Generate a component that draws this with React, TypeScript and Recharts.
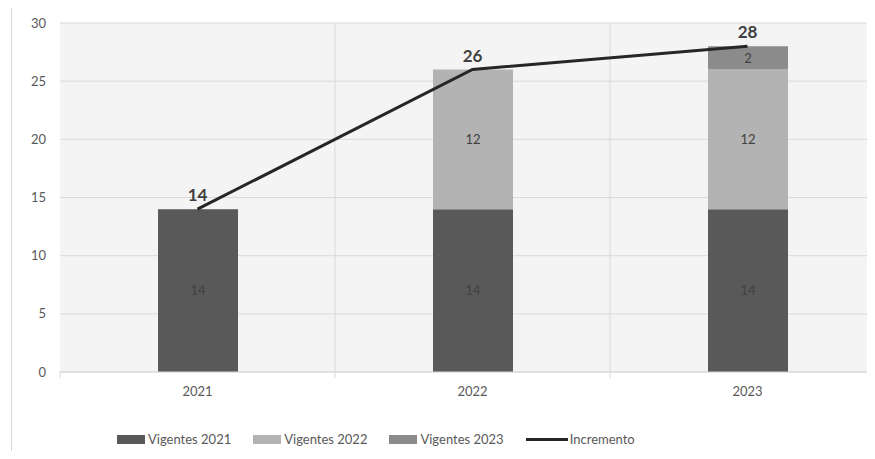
import { ComposedChart, Bar, Line, XAxis, YAxis, CartesianGrid, Legend, LabelList } from 'recharts';

const categories = ['2021', '2022', '2023'];
const vigentes2021 = [14, 14, 14];
const vigentes2022 = [null, 12, 12];
const vigentes2023 = [null, null, 2];
const incremento = [14, 26, 28];
const yTicks = [0, 5, 10, 15, 20, 25, 30];

const data = categories.map((year, i) => ({
  year,
  v2021: vigentes2021[i],
  v2022: vigentes2022[i],
  v2023: vigentes2023[i],
  incremento: incremento[i],
}));

const FONT = 'Lato, "Open Sans", sans-serif';
const TEXT = '#595959';
const GRID = '#d9d9d9';

const legendItems = [
  { label: 'Vigentes 2021', color: '#595959', type: 'bar' },
  { label: 'Vigentes 2022', color: '#b3b3b3', type: 'bar' },
  { label: 'Vigentes 2023', color: '#8b8b8b', type: 'bar' },
  { label: 'Incremento', color: '#262626', type: 'line' },
];

function renderLegend() {
  return (
    <div style={{ display: 'flex', paddingLeft: 107, paddingTop: 22, fontFamily: FONT, fontSize: 13, color: TEXT }}>
      {legendItems.map((item) => (
        <div key={item.label} style={{ display: 'flex', alignItems: 'center', marginRight: item.type === 'bar' ? 22 : 0 }}>
          {item.type === 'bar' ? (
            <div style={{ width: 28, height: 9, background: item.color, marginRight: 3 }} />
          ) : (
            <div style={{ width: 42, height: 3, background: item.color, marginRight: 2 }} />
          )}
          <span>{item.label}</span>
        </div>
      ))}
    </div>
  );
}

// category label plus the small boundary tick that Excel draws between categories
function YearTick(props: any) {
  const { x, y, payload } = props;
  const half = payload.offset || 0;
  return (
    <g>
      <line x1={x - half} x2={x - half} y1={372} y2={378} stroke={GRID} />
      <text x={x} y={y} dy={12} textAnchor="middle" fill={TEXT} fontSize={13}>
        {payload.value}
      </text>
    </g>
  );
}

export default function App() {
  return (
    <div style={{ position: 'relative', width: 875, height: 459, overflow: 'hidden', margin: -8, background: '#fff' }}>
      <div style={{ position: 'absolute', left: 11, top: 5, width: 1, height: 450, background: GRID }} />
      <div style={{ position: 'absolute', left: 0, top: 0, width: 900, height: 459 }}>
        <ComposedChart
          width={900}
          height={459}
          data={data}
          margin={{ top: 23, right: 15, bottom: 0, left: 10 }}
          barSize={80}
          style={{ fontFamily: FONT }}
        >
          <CartesianGrid
            stroke={GRID}
            fill="#f4f4f4"
            verticalCoordinatesGenerator={({ offset }: any) =>
              categories.slice(1).map((_, i) => offset.left + ((i + 1) * offset.width) / categories.length)
            }
          />
          <XAxis
            dataKey="year"
            axisLine={{ stroke: GRID }}
            tickLine={false}
            tickMargin={6}
            height={37}
            tick={<YearTick />}
          />
          <YAxis
            domain={[0, 30]}
            ticks={yTicks}
            axisLine={false}
            tickLine={false}
            width={50}
            tickMargin={8}
            tick={{ fill: TEXT, fontSize: 13 }}
          />
          <Legend verticalAlign="bottom" height={50} content={renderLegend} />
          <Bar dataKey="v2021" name="Vigentes 2021" stackId="a" fill="#595959" isAnimationActive={false}>
            <LabelList dataKey="v2021" position="center" fill="#404040" fontSize={13} />
          </Bar>
          <Bar dataKey="v2022" name="Vigentes 2022" stackId="a" fill="#b3b3b3" isAnimationActive={false}>
            <LabelList dataKey="v2022" position="center" fill="#404040" fontSize={13} />
          </Bar>
          <Bar dataKey="v2023" name="Vigentes 2023" stackId="a" fill="#8b8b8b" isAnimationActive={false}>
            <LabelList dataKey="v2023" position="center" fill="#404040" fontSize={13} />
          </Bar>
          <Line
            dataKey="incremento"
            name="Incremento"
            stroke="#262626"
            strokeWidth={3}
            dot={false}
            isAnimationActive={false}
          >
            <LabelList dataKey="incremento" position="top" offset={8} fill="#404040" fontSize={17} fontWeight="bold" />
          </Line>
        </ComposedChart>
      </div>
    </div>
  );
}
